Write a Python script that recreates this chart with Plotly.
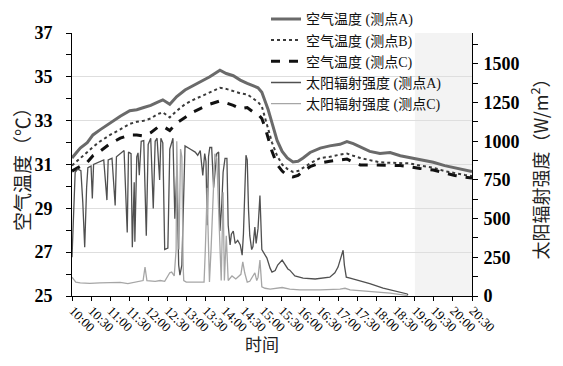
import pandas as pd
import plotly.graph_objects as go

# ---------------- data (minutes after 10:00) ----------------
temp_t = [0, 13, 24, 33, 44, 60, 76, 91, 102, 113, 124, 135, 143, 154, 165, 178, 191, 202,
          217, 233, 243, 254, 265, 276, 285, 293, 299, 304, 309, 315, 323, 331, 339, 348,
          356, 364, 375, 391, 406, 422, 433, 443, 454, 469, 485, 501, 517, 532, 548, 569,
          587, 603, 619, 630]
temp_a = [31.3, 31.75, 32.0, 32.35, 32.58, 32.9, 33.2, 33.45, 33.5, 33.6, 33.7, 33.85, 33.95,
          33.75, 34.1, 34.4, 34.6, 34.75, 35.0, 35.3, 35.15, 35.05, 34.85, 34.7, 34.6, 34.5,
          34.3, 33.9, 33.5, 32.9, 32.1, 31.6, 31.3, 31.12, 31.15, 31.3, 31.55, 31.75, 31.85,
          31.92, 32.05, 31.95, 31.8, 31.6, 31.5, 31.55, 31.4, 31.32, 31.2, 31.1, 30.95, 30.85,
          30.75, 30.68]
temp_b = [30.95, 31.3, 31.55, 31.8, 32.05, 32.35, 32.6, 32.85, 32.95, 33.0, 33.1, 33.3, 33.38,
          33.15, 33.45, 33.75, 33.95, 34.1, 34.3, 34.5, 34.45, 34.35, 34.25, 34.2, 34.0, 33.85,
          33.65, 33.15, 32.6, 32.0, 31.4, 31.0, 30.8, 30.66, 30.7, 30.85, 31.05, 31.3, 31.35,
          31.45, 31.5, 31.4, 31.3, 31.2, 31.1, 31.08, 31.05, 31.05, 30.95, 30.85, 30.7, 30.6,
          30.52, 30.48]
temp_c = [30.7, 30.9, 31.1, 31.4, 31.6, 31.95, 32.2, 32.35, 32.35, 32.3, 32.45, 32.7, 32.75,
          32.55, 32.9, 33.15, 33.4, 33.55, 33.75, 33.9, 33.8, 33.7, 33.55, 33.6, 33.4, 33.3,
          33.1, 32.7, 32.2, 31.6, 31.0, 30.7, 30.5, 30.43, 30.5, 30.7, 30.9, 31.07, 31.15,
          31.2, 31.25, 31.1, 30.98, 30.98, 30.98, 30.98, 30.95, 30.9, 30.82, 30.75, 30.6, 30.5,
          30.42, 30.38]

rad_a_t = [0, 2, 5, 9, 14, 17, 20, 23, 25, 30, 32, 34, 39, 44, 50, 55, 57, 63, 68, 70, 76, 82,
           87, 89, 93, 95, 98, 99, 102, 104, 106, 109, 113, 117, 120, 124, 128, 131, 134, 138,
           140, 143, 146, 151, 154, 159, 162, 165, 168, 170, 173, 175, 178, 186, 194, 198, 202,
           206, 209, 211, 213, 215, 217, 220, 223, 228, 231, 233, 236, 238, 241, 244, 246, 249,
           251, 254, 257, 261, 265, 268, 270, 274, 276, 278, 280, 283, 285, 288, 290, 293, 296,
           299, 304, 307, 312, 315, 320, 324, 331, 335, 340, 343, 351, 364, 383, 406, 414, 419,
           424, 427, 429, 432, 438, 449, 469, 490, 509, 528, 529]
rad_a = [250, 500, 800, 820, 810, 605, 315, 700, 830, 840, 630, 850, 860, 870, 880, 620, 880,
         890, 585, 900, 920, 940, 410, 930, 920, 315, 735, 350, 900, 925, 780, 1000, 1005, 390,
         980, 1020, 565, 1000, 1020, 750, 1020, 990, 300, 310, 950, 1020, 500, 800, 200, 135,
         200, 600, 970, 950, 930, 910, 940, 780, 920, 870, 457, 900, 960, 960, 700, 920, 930,
         420, 600, 800, 890, 890, 457, 330, 400, 420, 340, 360, 330, 264, 400, 910, 880, 560,
         390, 300, 320, 445, 340, 437, 650, 300, 260, 245, 180, 155, 165, 200, 232, 210, 175,
         167, 130, 116, 110, 122, 150, 187, 250, 296, 200, 122, 115, 103, 80, 51, 30, 13, 5]

rad_c_t = [0, 2, 6, 13, 28, 44, 60, 76, 88, 99, 107, 112, 115, 118, 131, 139, 146, 154, 157,
           161, 164, 165, 167, 168.5, 171, 173, 175, 176, 180, 194, 202, 208, 210, 213, 214,
           216.5, 219, 222, 225, 228, 231, 233, 235, 238, 240, 243, 246, 252, 258, 266, 269,
           272, 276, 280, 285, 288, 291, 293, 296, 299, 304, 312, 331, 343, 359, 391, 422, 430,
           438, 469, 501, 529]
rad_c = [122, 110, 90, 85, 82, 85, 85, 88, 80, 90, 95, 100, 187, 100, 95, 100, 95, 150, 155,
         130, 300, 1000, 600, 300, 950, 900, 200, 100, 90, 90, 88, 90, 300, 700, 480, 90, 300,
         585, 920, 890, 500, 300, 100, 670, 100, 390, 100, 130, 110, 140, 220, 150, 90, 95, 130,
         150, 100, 120, 232, 60, 50, 45, 55, 45, 40, 40, 45, 50, 40, 30, 18, 3]

names = ["空气温度 (测点A)", "空气温度 (测点B)", "空气温度 (测点C)",
         "太阳辐射强度 (测点A)", "太阳辐射强度 (测点C)"]

base = pd.Timestamp("2021-07-15 10:00")


def tt(mins):
    return [base + pd.Timedelta(minutes=m) for m in mins]


SERIF = "Liberation Serif, 'Times New Roman', 'Noto Sans CJK SC', serif"
CJK = "'Noto Sans CJK SC', 'Liberation Serif', sans-serif"

fig = go.Figure()
fig.add_trace(go.Scatter(x=tt(temp_t), y=temp_a, name=names[0], mode="lines",
                         line=dict(color="#6a6a6a", width=3)))
fig.add_trace(go.Scatter(x=tt(temp_t), y=temp_b, name=names[1], mode="lines",
                         line=dict(color="#3a3a3a", width=2, dash="dot")))
fig.add_trace(go.Scatter(x=tt(temp_t), y=temp_c, name=names[2], mode="lines",
                         line=dict(color="#111111", width=3, dash="dash")))
fig.add_trace(go.Scatter(x=tt(rad_a_t), y=rad_a, name=names[3], mode="lines", yaxis="y2",
                         line=dict(color="#505050", width=1.3)))
fig.add_trace(go.Scatter(x=tt(rad_c_t), y=rad_c, name=names[4], mode="lines", yaxis="y2",
                         line=dict(color="#a6a6a6", width=1.3)))

fig.add_shape(type="rect", xref="x", yref="y domain",
              x0=base + pd.Timedelta(minutes=540), x1=base + pd.Timedelta(minutes=630),
              y0=0, y1=1, fillcolor="#f3f3f3", line=dict(width=0), layer="below")

fig.add_annotation(text="时间", xref="paper", yref="paper", x=0.475, y=-0.179,
                   xanchor="center", yanchor="middle", showarrow=False,
                   font=dict(family=CJK, size=17, color="#222"))

# the page body adds an 8 px offset, so the margins are shifted to compensate
fig.update_layout(
    width=563, height=366,
    margin=dict(l=64, r=99, t=25, b=78, autoexpand=False),
    paper_bgcolor="white", plot_bgcolor="white",
    font=dict(family=SERIF, color="#111111"),
    showlegend=True,
    legend=dict(x=0.485, y=1.113, xanchor="left", yanchor="top",
                bgcolor="rgba(0,0,0,0)", font=dict(family=SERIF, size=14, color="#111"),
                tracegroupgap=0, itemwidth=30),
    xaxis=dict(
        type="date", automargin=False,
        range=[base, base + pd.Timedelta(minutes=630)],
        tickformat="%H:%M", dtick=30 * 60 * 1000, tick0=base,
        tickangle=45, tickfont=dict(family=SERIF, size=13, color="#000"),
        ticks="outside", ticklen=4, tickcolor="black",
        ticklabelstandoff=-3, ticklabelshift=1,
        showline=True, linecolor="black", linewidth=1,
        showgrid=False, zeroline=False,
    ),
    yaxis=dict(
        automargin=False,
        range=[25, 37], dtick=2, tick0=25,
        tickfont=dict(family=SERIF, size=18, color="#000", weight="bold"),
        ticks="outside", ticklen=5, tickcolor="black", ticklabelstandoff=10,
        minor=dict(dtick=1, ticks="outside", ticklen=5, tickcolor="black", showgrid=False),
        showline=True, linecolor="black", linewidth=1,
        showgrid=True, gridcolor="#dedede", gridwidth=1, zeroline=False,
        title=dict(text="空气温度（℃）", font=dict(family=CJK, size=19, color="#222"), standoff=0),
    ),
    yaxis2=dict(
        overlaying="y", side="right", anchor="x", automargin=False,
        range=[0, 1700], dtick=250, tick0=0,
        tickfont=dict(family=SERIF, size=18, color="#000", weight="bold"),
        ticks="outside", ticklen=5, tickcolor="black", ticklabelstandoff=2,
        minor=dict(dtick=125, ticks="outside", ticklen=5, tickcolor="black", showgrid=False),
        showline=True, linecolor="black", linewidth=1,
        showgrid=False, zeroline=False,
        title=dict(text="太阳辐射强度（W/m<sup>2</sup>）", font=dict(family=CJK, size=18, color="#222"),
                   standoff=16),
    ),
)

fig.write_html("out.html")
